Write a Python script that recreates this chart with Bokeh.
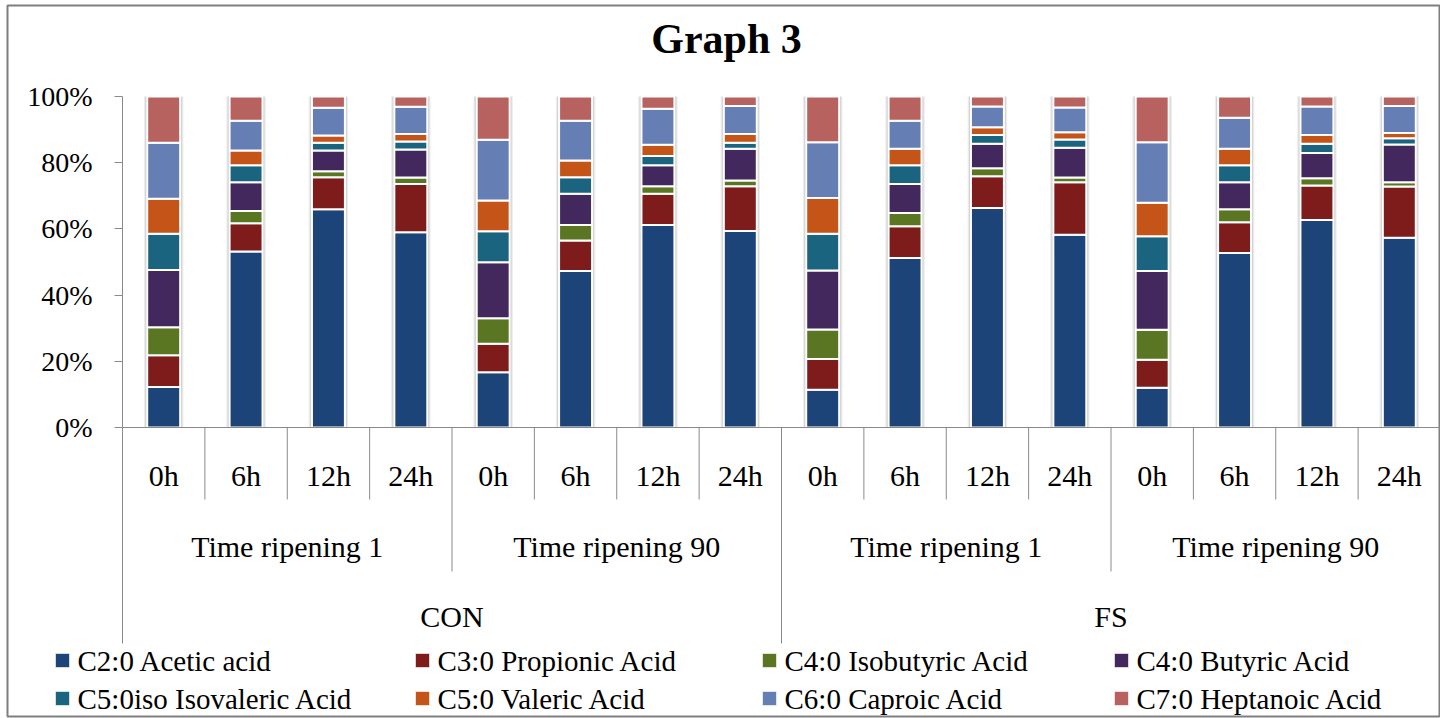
from bokeh.plotting import figure
from bokeh.models import (Range1d, FixedTicker, PrintfTickFormatter, Label,
                          ColumnDataSource)
from bokeh.embed import file_html
from bokeh.resources import INLINE

# ---- categories -------------------------------------------------------------
conditions = ["CON", "FS"]
ripening = ["Time ripening 1", "Time ripening 90"]
hours = ["0h", "6h", "12h", "24h"]

# ---- series (share of total volatile fatty acids, %) ----------------------
acetic = [12.2, 53.2, 65.9, 59.0, 16.7, 47.3, 61.2, 59.4,
          11.4, 51.2, 66.3, 58.2, 12.0, 52.7, 62.7, 57.3]
propionic = [9.6, 8.5, 9.7, 14.6, 8.6, 9.2, 9.4, 13.5,
             9.3, 9.6, 9.6, 15.9, 8.5, 9.3, 10.4, 15.5]
isobutyric = [8.5, 3.7, 1.8, 1.9, 7.7, 4.7, 2.3, 1.7,
              8.9, 4.0, 2.4, 1.4, 9.0, 3.9, 2.2, 1.3]
butyric = [17.3, 8.7, 6.3, 8.5, 16.9, 9.4, 6.3, 9.6,
           17.8, 8.8, 7.4, 9.0, 17.8, 8.2, 7.6, 11.4]
isovaleric = [10.9, 5.1, 2.3, 2.4, 9.4, 5.0, 2.8, 1.8,
              11.1, 5.6, 2.7, 2.5, 10.5, 5.1, 2.8, 1.9]
valeric = [10.6, 4.5, 2.2, 2.3, 9.3, 5.1, 3.4, 2.7,
           10.8, 5.0, 2.3, 2.2, 10.1, 5.0, 2.7, 1.6]
caproic = [16.9, 9.0, 8.4, 8.2, 18.3, 12.0, 10.9, 8.4,
           16.9, 8.5, 6.3, 7.5, 18.3, 9.4, 8.6, 8.1]
heptanoic = [14.0, 7.3, 3.4, 3.1, 13.1, 7.3, 3.7, 2.9,
             13.8, 7.3, 3.0, 3.3, 13.8, 6.4, 3.0, 2.9]

series_labels = ["C2:0 Acetic acid", "C3:0 Propionic Acid", "C4:0 Isobutyric Acid",
                 "C4:0 Butyric Acid", "C5:0iso Isovaleric Acid", "C5:0 Valeric Acid",
                 "C6:0 Caproic Acid", "C7:0 Heptanoic Acid"]
series_values = [acetic, propionic, isobutyric, butyric,
                 isovaleric, valeric, caproic, heptanoic]
series_colors = ["#1C4478", "#7E1B1B", "#5A7622", "#43285E",
                 "#1B6480", "#C55418", "#657EB4", "#B86260"]

# ---- layout constants (pixels) -----------------------------------------------
W, H = 1440, 718
BOX_LEFT, BOX_TOP, BOX_BOTTOM = 7, 5, 716     # chart-area border
AXIS_X, PLOT_TOP, ZERO_Y = 122, 96, 427       # value axis / 100 % row / 0 % row
PX_PER_PCT = (ZERO_Y - PLOT_TOP) / 100.0
PX_PER_CAT = (W - AXIS_X) / 16.0
FONT = "Liberation Serif"
AXIS_GRAY = "#8a8a8a"
BAR_W = 0.40

factors = [(c, r, h) for c in conditions for r in ripening for h in hours]
n = len(factors)
xpos = [i + 0.5 for i in range(n)]            # category centres

x_range = Range1d(-(AXIS_X - BOX_LEFT) / PX_PER_CAT, n)
y_range = Range1d(-(BOX_BOTTOM - ZERO_Y) / PX_PER_PCT,
                  100 + (PLOT_TOP - BOX_TOP) / PX_PER_PCT)


def px_x(px):
    """Canvas pixel column -> x data coordinate."""
    return x_range.start + (px - BOX_LEFT) / PX_PER_CAT


def px_y(py):
    """Canvas pixel row -> y data coordinate."""
    return y_range.start + (BOX_BOTTOM - py) / PX_PER_PCT


p = figure(width=W, height=H, x_range=x_range, y_range=y_range,
           output_backend="svg", toolbar_location=None,
           min_border_left=BOX_LEFT, min_border_right=0,
           min_border_top=BOX_TOP, min_border_bottom=H - BOX_BOTTOM)
p.outline_line_color = "#7f7f7f"
p.outline_line_width = 2
p.xgrid.visible = False
p.ygrid.visible = False
p.xaxis.visible = False
p.background_fill_color = "white"
p.border_fill_color = "white"

keys = ["s%d" % i for i in range(len(series_values))]
data = {"x": xpos}
for k, vals in zip(keys, series_values):
    data[k] = vals
data["total"] = [sum(v) for v in zip(*series_values)]
source = ColumnDataSource(data)

# soft glow behind each column
for extra, alpha in ((0.08, 0.07), (0.05, 0.10), (0.025, 0.15)):
    p.vbar(x="x", top="total", bottom=0, width=BAR_W + extra, source=source,
           fill_color="#000000", fill_alpha=alpha, line_color=None)

bars = p.vbar_stack(keys, x="x", width=BAR_W, source=source,
                    fill_color=series_colors, line_color="white", line_width=2)

# ---- value axis --------------------------------------------------------------
yax = p.yaxis[0]
yax.fixed_location = 0
yax.bounds = (0, 100)
yax.ticker = FixedTicker(ticks=[0, 20, 40, 60, 80, 100])
yax.formatter = PrintfTickFormatter(format="%d%%")
yax.axis_line_color = AXIS_GRAY
yax.major_tick_line_color = AXIS_GRAY
yax.major_tick_out = 8
yax.major_tick_in = 0
yax.minor_tick_line_color = None
yax.major_label_standoff = 22
yax.major_label_text_font = FONT
yax.major_label_text_font_size = "28px"
yax.major_label_text_color = "black"

# ---- hierarchical category axis --------------------------------------------
p.segment(x0=0, y0=0, x1=n, y1=0, line_color=AXIS_GRAY, line_width=1)

STEP = 72  # pixel depth of each label tier
sep_x, sep_y1 = [], []
for i in range(n + 1):
    if i in (0, n) or factors[i][0] != factors[i - 1][0]:
        depth = 3 * STEP
    elif factors[i][1] != factors[i - 1][1]:
        depth = 2 * STEP
    else:
        depth = STEP
    sep_x.append(i)
    sep_y1.append(-depth / PX_PER_PCT)
p.segment(x0="x", y0=0, x1="x", y1="y1",
          source=ColumnDataSource(dict(x=sep_x, y1=sep_y1)),
          line_color=AXIS_GRAY, line_width=1)

text_style = dict(text_align="center", text_baseline="middle",
                  text_font={"value": FONT}, text_font_size={"value": "30px"},
                  text_color="black")

p.text(x="x", y=0, text="t", y_offset=48,
       source=ColumnDataSource(dict(x=xpos, t=[f[2] for f in factors])),
       **text_style)


def group_centres(level):
    keys_, centres = [], []
    for i, f in enumerate(factors):
        k = f[:level]
        if not keys_ or keys_[-1] != k:
            keys_.append(k)
            centres.append([])
        centres[-1].append(xpos[i])
    return keys_, [sum(c) / len(c) for c in centres]


mid_keys, mid_x = group_centres(2)
p.text(x="x", y=0, text="t", y_offset=119,
       source=ColumnDataSource(dict(x=mid_x, t=[k[1] for k in mid_keys])),
       **text_style)

top_keys, top_x = group_centres(1)
p.text(x="x", y=0, text="t", y_offset=189,
       source=ColumnDataSource(dict(x=top_x, t=[k[0] for k in top_keys])),
       **text_style)

# ---- title -------------------------------------------------------------------
p.add_layout(Label(x=726 - BOX_LEFT, y=BOX_BOTTOM - 38, x_units="screen",
                   y_units="screen", text="Graph 3", text_align="center",
                   text_baseline="middle", text_font=FONT, text_font_style="bold",
                   text_font_size="42px", text_color="black"))

# ---- legend: two rows, four evenly spaced columns ------------------------
col_left = [55, 415, 762, 1114]
row_mid = [660, 698]
SWATCH = 14
leg_x, leg_y = [], []
for i in range(len(series_labels)):
    leg_x.append(col_left[i % 4])
    leg_y.append(row_mid[i // 4])
legend_src = ColumnDataSource(dict(
    sx=[px_x(x + SWATCH / 2) for x in leg_x],
    tx=[px_x(x + SWATCH + 8) for x in leg_x],
    y=[px_y(y) for y in leg_y],
    color=series_colors,
    label=series_labels,
))
p.rect(x="sx", y="y", width=SWATCH, height=SWATCH, width_units="screen",
       height_units="screen", fill_color="color", line_color="#ffffff",
       line_alpha=0.6, line_width=1, source=legend_src)
p.text(x="tx", y="y", text="label", source=legend_src, text_align="left",
       text_baseline="middle", text_font={"value": FONT},
       text_font_size={"value": "29px"}, text_color="black")

open("out.html", "w").write(file_html(p, INLINE))
